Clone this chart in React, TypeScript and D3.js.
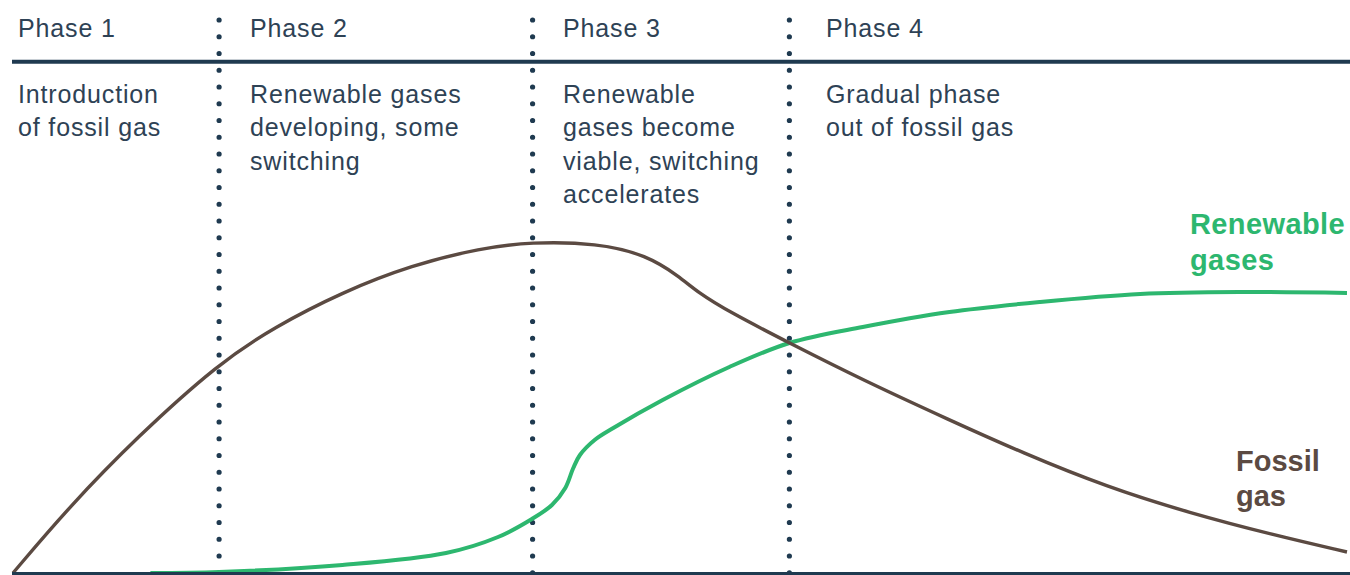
import React from "react";
import * as d3 from "d3";

// Phase headings and the text under each one
const phaseNames = ["Phase 1", "Phase 2", "Phase 3", "Phase 4"];
const phaseNotes = [
  ["Introduction", "of fossil gas"],
  ["Renewable gases", "developing, some", "switching"],
  ["Renewable", "gases become", "viable, switching", "accelerates"],
  ["Gradual phase", "out of fossil gas"],
];
// Where each phase begins on the time axis (0–100)
const phaseStart = [0, 15.45, 38.95, 58.2];

// Time axis positions (0–100) and share of gas supply (0–100)
const fossilTime = [0, 4.2, 9.3, 15.45, 19.6, 24.7, 29.9, 35.1, 38.8, 43.8, 47.5, 50, 51.3, 53.7, 58.2, 63.7, 70.2, 75.7, 82, 88.2, 94.5, 100];
const fossilShare = [0, 16.5, 34, 52.5, 61.5, 70.25, 77, 81.25, 82.75, 82.5, 79.5, 74, 70.25, 65.25, 57.5, 48.25, 38.25, 30, 21.5, 15, 9.5, 5.25];

const renewableTime = [10.3, 15.45, 24.7, 32.46, 36.36, 38.9, 40.4, 41.4, 42, 42.5, 43.6, 45, 48.7, 53.7, 58.2, 63.7, 70.2, 77, 84.5, 92, 100];
const renewableShare = [0, 0.25, 2, 5, 9, 13.5, 17, 21.25, 26.25, 29.5, 33.25, 36.25, 43.25, 51.5, 57.5, 61.5, 65.25, 67.75, 69.75, 70.25, 70];

const seriesLabels = { renewable: ["Renewable", "gases"], fossil: ["Fossil", "gas"] };

// Layout
const W = 1350;
const H = 575;
const plotLeft = 13;
const plotRight = 1347;
const baseY = 573;
const headerRuleY = 61.7;
const phaseLabelX = [18, 250, 563, 826];
const navy = "#1f3a50";
const textColor = "#2e4255";
const green = "#2db76f";
const brown = "#5b4a42";
const font = "'Liberation Sans', Arial, Helvetica, sans-serif";

export default function App() {
  const x = d3.scaleLinear().domain([0, 100]).range([plotLeft, plotRight]);
  const y = d3.scaleLinear().domain([0, 100]).range([baseY, 173]);

  const lineWith = (curve: d3.CurveFactory) =>
    d3
      .line<[number, number]>()
      .x((d) => x(d[0]))
      .y((d) => y(d[1]))
      .curve(curve);

  const fossilPath =
    lineWith(d3.curveBasis)(fossilTime.map((t, i) => [t, fossilShare[i]] as [number, number])) || "";
  const renewablePath =
    lineWith(d3.curveCatmullRom.alpha(0.5))(
      renewableTime.map((t, i) => [t, renewableShare[i]] as [number, number])
    ) || "";

  return (
    <svg
      width={W}
      height={H}
      viewBox={`0 0 ${W} ${H}`}
      style={{ position: "absolute", left: 0, top: 0, background: "#fff" }}
      fontFamily={font}
    >
      {/* phase headings */}
      {phaseNames.map((name, i) => (
        <text key={name} x={phaseLabelX[i]} y={36.5} fontSize={25} letterSpacing={0.85} fill={textColor}>
          {name}
        </text>
      ))}

      {/* rule under headings */}
      <line x1={12} x2={W} y1={headerRuleY} y2={headerRuleY} stroke={navy} strokeWidth={4} />

      {/* phase descriptions */}
      {phaseNotes.map((lines, i) => (
        <text key={i} x={phaseLabelX[i]} y={103} fontSize={25} letterSpacing={0.85} fill={textColor}>
          {lines.map((l, j) => (
            <tspan key={j} x={phaseLabelX[i]} y={103 + j * 33.4}>
              {l}
            </tspan>
          ))}
        </text>
      ))}

      {/* dotted phase boundaries */}
      {phaseStart.slice(1).map((t) => (
        <line
          key={t}
          x1={x(t)}
          x2={x(t)}
          y1={20}
          y2={baseY}
          stroke={navy}
          strokeWidth={5.2}
          strokeLinecap="round"
          strokeDasharray="0 16.75"
        />
      ))}

      {/* series */}
      <path d={renewablePath} fill="none" stroke={green} strokeWidth={4} />
      <path d={fossilPath} fill="none" stroke={brown} strokeWidth={3.4} />

      {/* baseline */}
      <line x1={12} x2={W} y1={baseY + 0.5} y2={baseY + 0.5} stroke={navy} strokeWidth={3} />

      {/* series labels */}
      <text x={1190} y={234} fontSize={29} fontWeight="bold" letterSpacing={0.4} fill={green}>
        <tspan x={1190} y={234}>{seriesLabels.renewable[0]}</tspan>
        <tspan x={1190} y={270}>{seriesLabels.renewable[1]}</tspan>
      </text>
      <text x={1236} y={471} fontSize={29} fontWeight="bold" fill={brown}>
        <tspan x={1236} y={471}>{seriesLabels.fossil[0]}</tspan>
        <tspan x={1236} y={506}>{seriesLabels.fossil[1]}</tspan>
      </text>
    </svg>
  );
}
